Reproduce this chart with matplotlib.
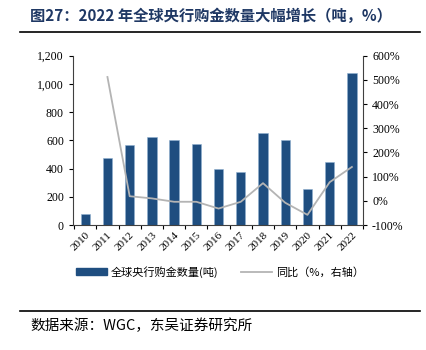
import numpy as np
import matplotlib.pyplot as plt
from matplotlib.lines import Line2D
from matplotlib.patches import Patch

plt.rcParams['font.family'] = ['Liberation Serif', 'Noto Sans CJK SC']

# data
years = ['2010', '2011', '2012', '2013', '2014', '2015', '2016',
         '2017', '2018', '2019', '2020', '2021', '2022']
gold = [78, 478, 569, 626, 600, 576, 395, 379, 654, 605, 254, 450, 1078]  # 吨
yoy = [np.nan, 512, 19, 10, -4, -4, -32, -4, 73, -8, -58, 77, 140]  # %

yticks_l = [0, 200, 400, 600, 800, 1000, 1200]
yticks_r = [-100, 0, 100, 200, 300, 400, 500, 600]

bar_c = '#1F4E80'
line_c = '#B4B4B4'
cjk = ['Noto Sans CJK SC', 'DejaVu Sans']

fig = plt.figure(figsize=(4.26, 3.5), dpi=100)
ax = fig.add_axes([73/426, 1-225/350, (363-73)/426, (225-55.7)/350])
ax2 = ax.twinx()

x = np.arange(len(years))
ax.bar(x, gold, width=0.42, color=bar_c, edgecolor='#8FB0D0', linewidth=0.4, zorder=2)
ax2.plot(x, yoy, color=line_c, linewidth=1.3)

ax.set_xlim(-0.55, 12.5)
ax.set_ylim(0, 1200)
ax2.set_ylim(-100, 600)

ax.set_yticks(yticks_l)
ax.set_yticklabels([f'{v:,}' for v in yticks_l])
ax2.set_yticks(yticks_r)
ax2.set_yticklabels([f'{v}%' for v in yticks_r])

ax.set_xticks(x)
ax.set_xticklabels(years, rotation=45, ha='right', rotation_mode='anchor')
ax.tick_params(axis='x', length=0, labelsize=8, pad=4)
ax.set_xticks(np.arange(-0.5, 13, 1), minor=True)
ax.tick_params(axis='x', which='minor', length=3, direction='out', width=0.8)
ax.tick_params(axis='y', labelsize=8.5, length=3, width=0.8)
ax2.tick_params(axis='y', labelsize=8.5, length=3, width=0.8)

for a in (ax, ax2):
    a.spines['top'].set_visible(False)
    for s in a.spines.values():
        s.set_color('#404040')
        s.set_linewidth(0.8)
ax2.spines['left'].set_visible(False)
ax2.spines['bottom'].set_visible(False)
ax.spines['right'].set_visible(False)

# legend
handles = [Patch(facecolor=bar_c, edgecolor=bar_c),
           Line2D([0], [0], color=line_c, linewidth=1.3)]
fig.legend(handles, ['全球央行购金数量(吨)', '同比（%，右轴）'],
           loc='center', bbox_to_anchor=(220/426, 1-272/350), ncol=2,
           frameon=False, prop={'family': cjk, 'size': 8},
           handlelength=2.8, handleheight=0.6, columnspacing=2.0, handletextpad=0.4)

# title and source
fig.text(30/426, 1-16/350, '图27：2022 年全球央行购金数量大幅增长（吨，%）',
         fontsize=11, fontweight='bold', color='#1F3864', va='center',
         family=['Noto Sans CJK SC', 'DejaVu Sans'])
fig.add_artist(Line2D([20/426, 420/426], [1-32/350, 1-32/350], color='black', linewidth=1.2))
fig.add_artist(Line2D([20/426, 420/426], [1-311/350, 1-311/350], color='black', linewidth=1.2))
fig.text(30/426, 1-326/350, '数据来源：WGC，东吴证券研究所', fontsize=10.5, va='center',
         family=cjk)

fig.savefig('out.png', dpi=100)
